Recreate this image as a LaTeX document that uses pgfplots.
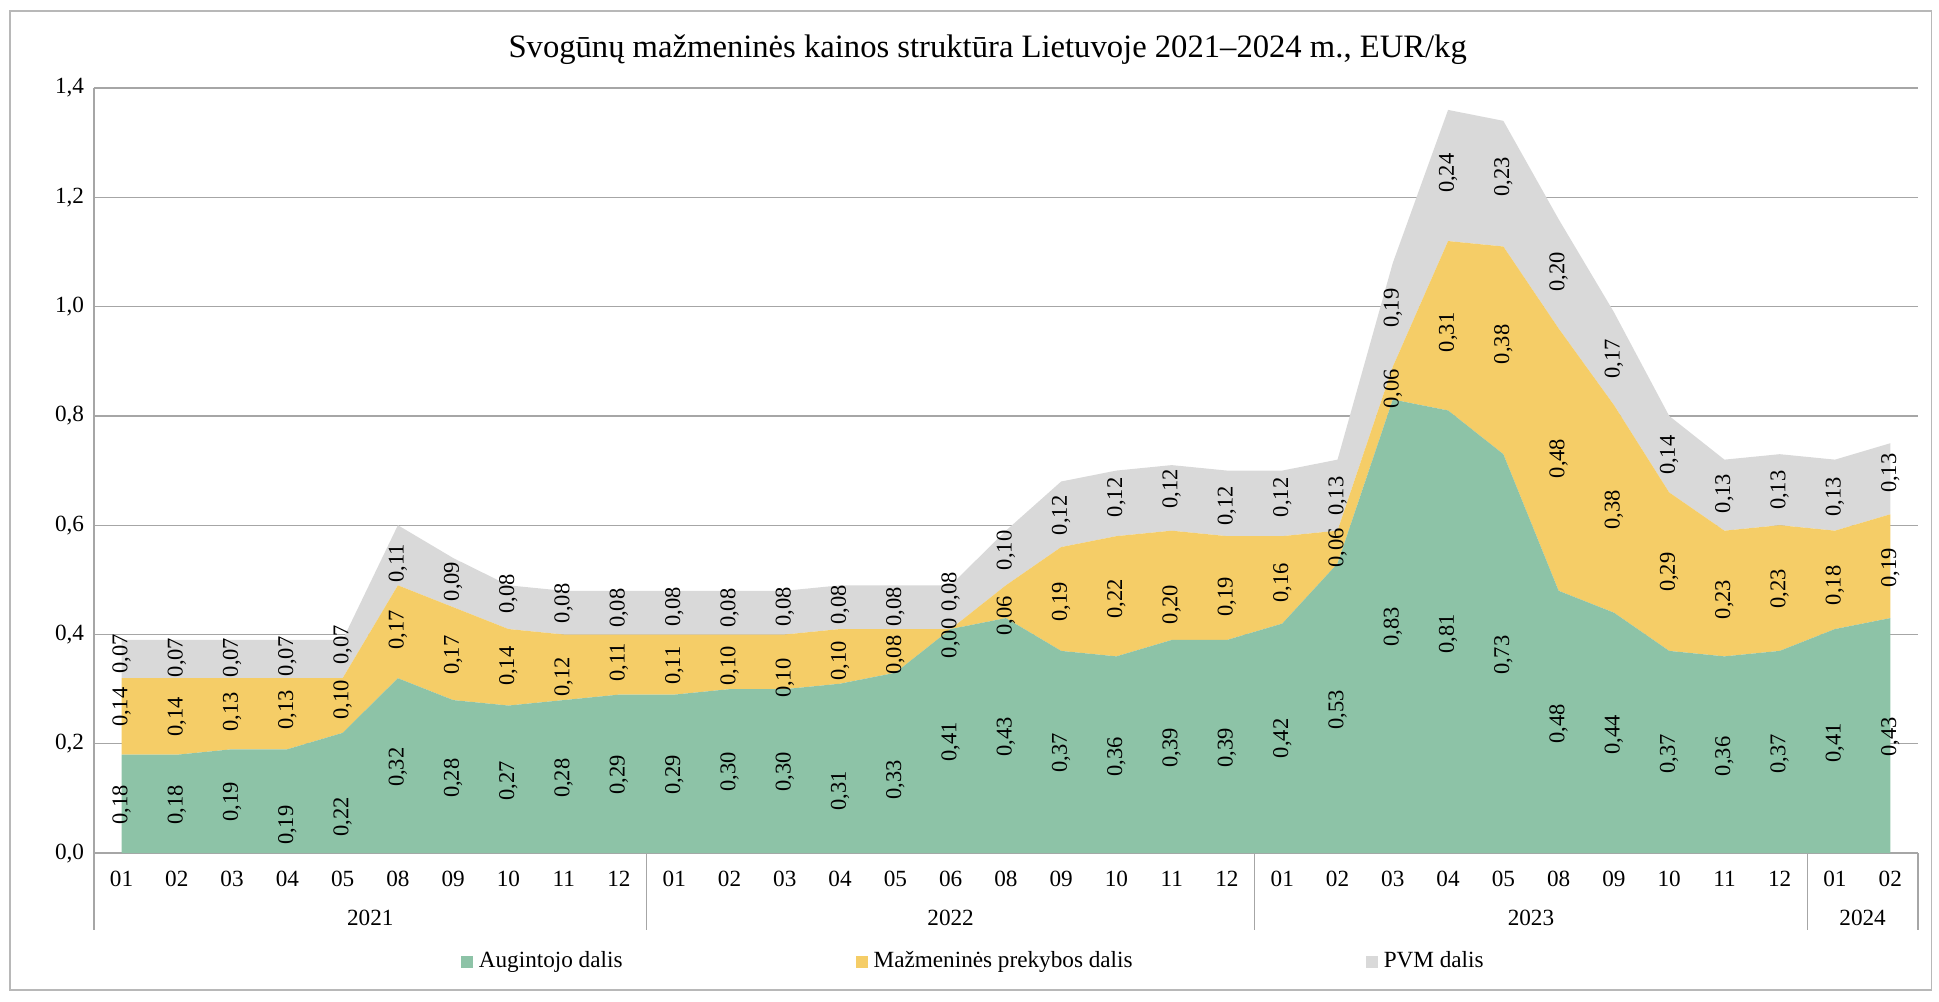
\documentclass[border=0pt]{standalone}
\usepackage{fontspec}
\setmainfont{Liberation Serif}
\usepackage{pgfplots}
\pgfplotsset{compat=1.18}
\usepackage{pgfplotstable}

\definecolor{growgreen}{HTML}{8DC3A7}
\definecolor{retailyel}{HTML}{F5CD67}
\definecolor{vatgray}{HTML}{D9D9D9}
\definecolor{gridgray}{HTML}{A6A6A6}

% x = category index, v = value, ly = height of the value label
\pgfplotstableread{
x v ly
0 0.18 0.088
1 0.18 0.088
2 0.19 0.094
3 0.19 0.051
4 0.22 0.066
5 0.32 0.157
6 0.28 0.137
7 0.27 0.132
8 0.28 0.137
9 0.29 0.143
10 0.29 0.143
11 0.30 0.149
12 0.30 0.149
13 0.31 0.114
14 0.33 0.134
15 0.41 0.203
16 0.43 0.213
17 0.37 0.183
18 0.36 0.176
19 0.39 0.192
20 0.39 0.192
21 0.42 0.210
22 0.53 0.262
23 0.83 0.414
24 0.81 0.401
25 0.73 0.362
26 0.48 0.237
27 0.44 0.216
28 0.37 0.182
29 0.36 0.177
30 0.37 0.182
31 0.41 0.202
32 0.43 0.213
}\grower

\pgfplotstableread{
x v ly
0 0.14 0.267
1 0.14 0.249
2 0.13 0.258
3 0.13 0.262
4 0.10 0.280
5 0.17 0.408
6 0.17 0.362
7 0.14 0.342
8 0.12 0.322
9 0.11 0.349
10 0.11 0.343
11 0.10 0.343
12 0.10 0.320
13 0.10 0.352
14 0.08 0.362
15 0.00 0.393
16 0.06 0.434
17 0.19 0.460
18 0.22 0.465
19 0.20 0.455
20 0.19 0.469
21 0.16 0.495
22 0.06 0.558
23 0.06 0.850
24 0.31 0.953
25 0.38 0.931
26 0.48 0.722
27 0.38 0.628
28 0.29 0.514
29 0.23 0.464
30 0.23 0.483
31 0.18 0.490
32 0.19 0.522
}\retail

\pgfplotstableread{
x v ly
0 0.07 0.364
1 0.07 0.358
2 0.07 0.358
3 0.07 0.360
4 0.07 0.381
5 0.11 0.530
6 0.09 0.497
7 0.08 0.474
8 0.08 0.457
9 0.08 0.448
10 0.08 0.451
11 0.08 0.448
12 0.08 0.451
13 0.08 0.454
14 0.08 0.451
15 0.08 0.478
16 0.10 0.554
17 0.12 0.618
18 0.12 0.651
19 0.12 0.666
20 0.12 0.635
21 0.12 0.651
22 0.13 0.653
23 0.19 0.997
24 0.24 1.244
25 0.23 1.237
26 0.20 1.064
27 0.17 0.904
28 0.14 0.728
29 0.13 0.658
30 0.13 0.664
31 0.13 0.652
32 0.13 0.695
}\vat

\pgfplotsset{
  common/.style={
    scale only axis,
    width=656.6pt, height=275.4pt,
    xmin=-0.5, xmax=32.5,
    ymin=0, ymax=1.4,
  },
}

\newcommand{\tickfont}{\fontsize{8.35pt}{10pt}\selectfont}

\begin{document}
\begin{tikzpicture}
\useasboundingbox (-33.8pt,-53.3pt) rectangle (664.2pt,307.1pt);
\draw[gridgray!80, line width=0.6pt] (-30.2pt,-49.3pt) rectangle (661.5pt,303.1pt);

\begin{axis}[
  common,
  stack plots=y,
  clip=false,
  axis x line=bottom,
  axis y line=left,
  axis line style={gridgray, line width=0.5pt, -},
  ymajorgrids=true,
  grid style={gridgray, line width=0.5pt},
  major tick length=0pt,
  xtick={0,...,32},
  xticklabels={01,02,03,04,05,08,09,10,11,12,01,02,03,04,05,06,08,09,10,11,12,01,02,03,04,05,08,09,10,11,12,01,02},
  ytick={0,0.2,0.4,0.6,0.8,1.0,1.2,1.4},
  tick label style={font=\tickfont},
  xticklabel style={anchor=center, yshift=-9.4pt},
  yticklabel style={/pgf/number format/.cd, fixed, fixed zerofill, precision=1, use comma, assume math mode=true},
  legend style={at={(rel axis cs:0.201,0)}, anchor=west, yshift=-39.2pt, draw=none, fill=none,
    inner sep=0pt, font=\tickfont, legend columns=3,
    /tikz/every even column/.append style={column sep=82pt}},
  legend image code/.code={\fill[#1] (0pt,-2.2pt) rectangle (4.4pt,2.2pt);},
]
\addplot[fill=growgreen, draw=none] table[x=x, y=v] {\grower} \closedcycle;
\addlegendentry{Augintojo dalis\hspace{12.4pt}}
\addplot[fill=retailyel, draw=none] table[x=x, y=v] {\retail} \closedcycle;
\addlegendentry{Mažmeninės prekybos dalis}
\addplot[fill=vatgray, draw=none] table[x=x, y=v] {\vat} \closedcycle;
\addlegendentry{PVM dalis}

% title
\node[font=\fontsize{11.75pt}{14pt}\selectfont] at ([yshift=13.9pt]rel axis cs:0.49,1)
  {Svogūnų mažmeninės kainos struktūra Lietuvoje 2021–2024 m., EUR/kg};

% year groups under the month labels
\draw[gridgray, line width=0.5pt] (axis cs:-0.5,0) -- ([yshift=-27.7pt]axis cs:-0.5,0);
\draw[gridgray, line width=0.5pt] (axis cs:9.5,0) -- ([yshift=-27.7pt]axis cs:9.5,0);
\draw[gridgray, line width=0.5pt] (axis cs:20.5,0) -- ([yshift=-27.7pt]axis cs:20.5,0);
\draw[gridgray, line width=0.5pt] (axis cs:30.5,0) -- ([yshift=-27.7pt]axis cs:30.5,0);
\draw[gridgray, line width=0.5pt] (axis cs:32.5,0) -- ([yshift=-27.7pt]axis cs:32.5,0);
\node[font=\tickfont] at ([yshift=-23.4pt]axis cs:4.5,0) {2021};
\node[font=\tickfont] at ([yshift=-23.4pt]axis cs:15,0) {2022};
\node[font=\tickfont] at ([yshift=-23.4pt]axis cs:25.5,0) {2023};
\node[font=\tickfont] at ([yshift=-23.4pt]axis cs:31.5,0) {2024};
\end{axis}

% value labels, drawn in a second axis so they are not stacked
\begin{axis}[
  common,
  hide axis,
  nodes near coords={\pgfmathprintnumber[fixed, fixed zerofill, precision=2, use comma, assume math mode=true]{\pgfplotspointmeta}},
  every node near coord/.append style={anchor=center, rotate=90, font=\fontsize{8.1pt}{9.5pt}\selectfont, inner sep=0pt},
]
\addplot[draw=none, mark=none, point meta=explicit] table[x=x, y=ly, meta=v] {\grower};
\addplot[draw=none, mark=none, point meta=explicit] table[x=x, y=ly, meta=v] {\retail};
\addplot[draw=none, mark=none, point meta=explicit] table[x=x, y=ly, meta=v] {\vat};
\end{axis}
\end{tikzpicture}
\end{document}
